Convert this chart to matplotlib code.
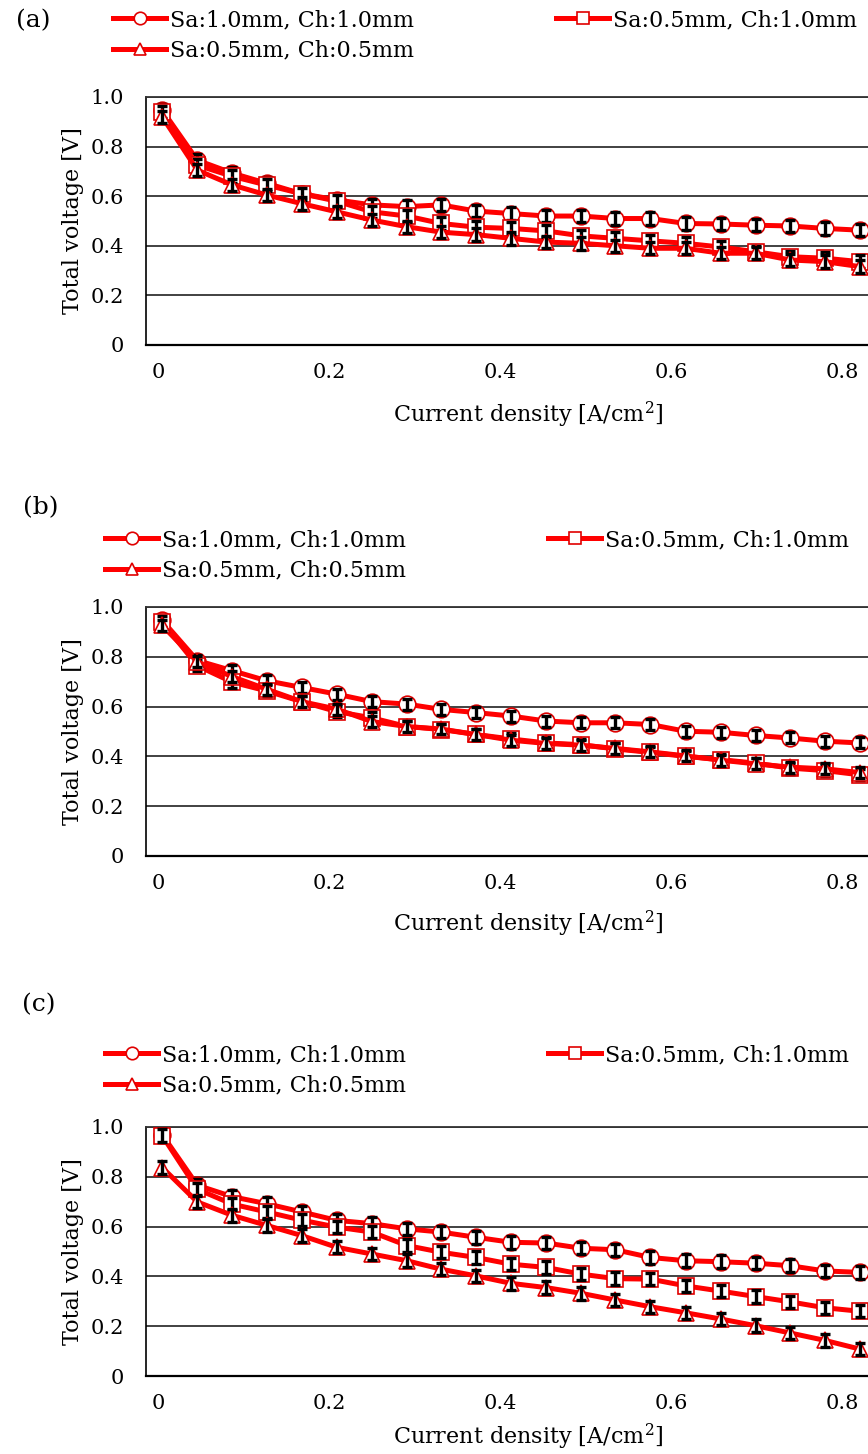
import matplotlib.pyplot as plt

plt.rcParams['font.family'] = 'DejaVu Serif'
plt.rcParams['mathtext.fontset'] = 'dejavuserif'

# current density [A/cm2]
x = [0.005, 0.046, 0.087, 0.127, 0.168, 0.209, 0.250, 0.291, 0.331, 0.372, 0.413,
     0.454, 0.495, 0.535, 0.576, 0.617, 0.658, 0.699, 0.739, 0.780, 0.821]

labels = ['Sa:1.0mm, Ch:1.0mm', 'Sa:0.5mm, Ch:1.0mm', 'Sa:0.5mm, Ch:0.5mm']
markers = ['o', 's', '^']

# (a) total voltage [V]
a_circ = [0.947, 0.745, 0.693, 0.652, 0.610, 0.585, 0.565, 0.558, 0.565, 0.540, 0.530,
          0.520, 0.520, 0.510, 0.510, 0.490, 0.488, 0.483, 0.480, 0.470, 0.463]
a_sq = [0.940, 0.725, 0.680, 0.645, 0.610, 0.580, 0.537, 0.520, 0.490, 0.475, 0.470,
        0.460, 0.440, 0.430, 0.420, 0.410, 0.395, 0.376, 0.356, 0.350, 0.336]
a_tri = [0.920, 0.705, 0.645, 0.605, 0.570, 0.537, 0.504, 0.477, 0.455, 0.445, 0.430,
         0.415, 0.410, 0.400, 0.390, 0.390, 0.370, 0.370, 0.343, 0.336, 0.316]

# (b)
b_circ = [0.946, 0.785, 0.744, 0.704, 0.677, 0.650, 0.620, 0.610, 0.589, 0.576, 0.562,
          0.542, 0.535, 0.535, 0.528, 0.501, 0.497, 0.484, 0.474, 0.461, 0.454]
b_sq = [0.940, 0.764, 0.698, 0.663, 0.620, 0.580, 0.555, 0.520, 0.508, 0.488, 0.470,
        0.454, 0.447, 0.430, 0.416, 0.400, 0.387, 0.373, 0.353, 0.343, 0.326]
b_tri = [0.926, 0.780, 0.720, 0.670, 0.620, 0.590, 0.540, 0.520, 0.510, 0.488, 0.465,
         0.452, 0.445, 0.432, 0.418, 0.402, 0.385, 0.370, 0.357, 0.350, 0.335]

# (c)
c_circ = [0.969, 0.766, 0.720, 0.692, 0.659, 0.625, 0.612, 0.591, 0.578, 0.557, 0.537,
          0.534, 0.513, 0.507, 0.476, 0.463, 0.459, 0.453, 0.443, 0.422, 0.416]
c_sq = [0.965, 0.750, 0.690, 0.659, 0.626, 0.598, 0.578, 0.524, 0.497, 0.476, 0.449,
        0.436, 0.409, 0.391, 0.389, 0.362, 0.341, 0.319, 0.298, 0.274, 0.260]
c_tri = [0.837, 0.699, 0.645, 0.605, 0.564, 0.517, 0.490, 0.463, 0.429, 0.402, 0.372,
         0.355, 0.332, 0.305, 0.278, 0.254, 0.229, 0.202, 0.173, 0.143, 0.108]

# error bar half widths [V]
err_a = 0.025
err_b = 0.022
err_c = 0.025

W, H = 868, 1454
fig = plt.figure(figsize=(W / 100, H / 100), dpi=100)

# pixel layout of each panel: axes top/bottom, x label drop, legend anchor, panel tag
panels = [
    ('(a)', [a_circ, a_sq, a_tri], err_a, 97, 345, 55, (113, 9), (33, 21)),
    ('(b)', [b_circ, b_sq, b_tri], err_b, 607, 856, 53, (105, 529), (41, 508)),
    ('(c)', [c_circ, c_sq, c_tri], err_c, 1127, 1376, 46, (105, 1044), (39, 1005)),
]

ax_left, ax_right = 146, 888
x0_px, px_per_unit = 158, 855

for tag, series, err, top, bottom, xl_drop, leg_xy, tag_xy in panels:
    ax = fig.add_axes([ax_left / W, 1 - bottom / H, (ax_right - ax_left) / W, (bottom - top) / H])
    ax.set_xlim((ax_left - x0_px) / px_per_unit, (ax_right - x0_px) / px_per_unit)
    ax.set_ylim(0, 1.0)

    lines = []
    for k, (y, m, lab) in enumerate(zip(series, markers, labels)):
        ln, = ax.plot(x, y, color='#ff0000', lw=3.6, marker=m, ms=12,
                      mfc='white', mec='#e00000', mew=1.2, label=lab, zorder=3 + 2 * k)
        ax.errorbar(x, y, yerr=err, fmt='none', ecolor='black', elinewidth=2.4,
                    capsize=3.5, capthick=2.4, zorder=4 + 2 * k)
        lines.append(ln)

    ax.set_yticks([0, 0.2, 0.4, 0.6, 0.8, 1.0])
    ax.set_yticklabels(['0', '0.2', '0.4', '0.6', '0.8', '1.0'])
    ax.set_xticks([0, 0.2, 0.4, 0.6, 0.8])
    ax.set_xticklabels(['0', '0.2', '0.4', '0.6', '0.8'])
    ax.tick_params(axis='both', length=0, labelsize=15)
    ax.tick_params(axis='y', pad=16)
    ax.tick_params(axis='x', pad=13)
    ax.grid(axis='y', color='#333333', lw=1.3)
    ax.set_axisbelow(True)
    ax.spines['right'].set_visible(False)
    ax.spines['top'].set_color('#333333')
    ax.spines['top'].set_linewidth(1.3)
    ax.spines['left'].set_linewidth(1.2)
    ax.spines['bottom'].set_linewidth(1.6)

    ax.set_ylabel('Total voltage [V]', fontsize=16)
    ax.yaxis.set_label_coords((84 - ax_left) / (ax_right - ax_left), 0.5)
    ax.set_xlabel(r'Current density [A/cm$^{2}$]', fontsize=16)
    ax.xaxis.set_label_coords((528 - ax_left) / (ax_right - ax_left), -xl_drop / (bottom - top))

    ax.legend([lines[0], lines[2], lines[1]], [labels[0], labels[2], labels[1]],
              ncol=2, loc='upper left', bbox_to_anchor=(leg_xy[0] / W, 1 - leg_xy[1] / H),
              bbox_transform=fig.transFigure, frameon=False, borderpad=0, borderaxespad=0,
              handlelength=2.4, handletextpad=0.15, columnspacing=6.4, labelspacing=0.4,
              markerscale=0.75, fontsize=16)

    fig.text(tag_xy[0] / W, 1 - tag_xy[1] / H, tag, ha='center', va='center', fontsize=18)

fig.savefig('out.png', dpi=100)
